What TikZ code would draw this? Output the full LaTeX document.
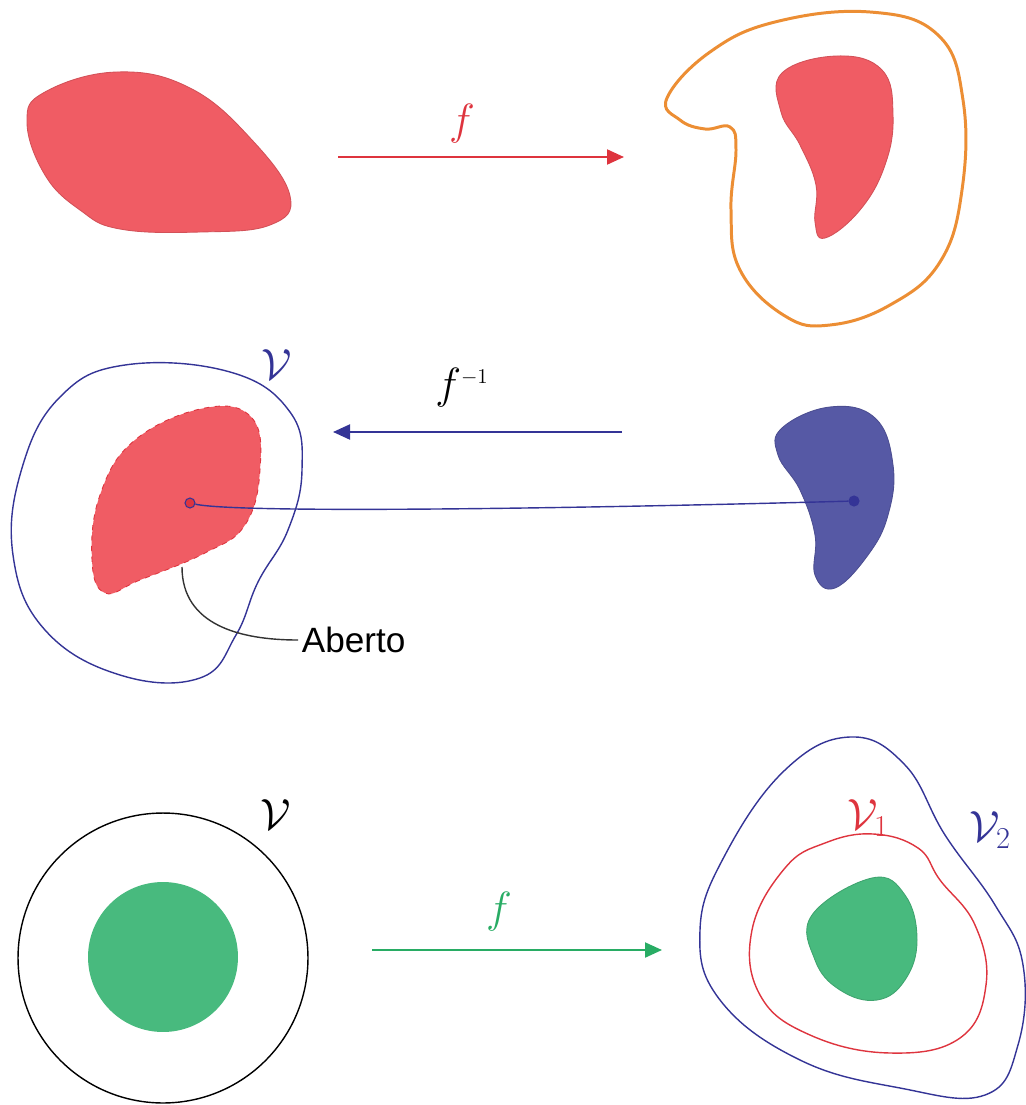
\documentclass[tikz,border=0pt]{standalone}
\usepackage{fontspec}
\setsansfont{Liberation Sans}
\usetikzlibrary{arrows.meta}

\definecolor{setred}{RGB}{240,92,100}
\definecolor{edgered}{RGB}{222,52,62}
\definecolor{orangeline}{RGB}{236,142,52}
\definecolor{navyline}{RGB}{52,52,150}
\definecolor{setblue}{RGB}{86,89,165}
\definecolor{setgreen}{RGB}{72,186,126}
\definecolor{greenline}{RGB}{40,172,100}

\begin{document}
\begin{tikzpicture}[
  x=0.02cm, y=-0.02cm,
  region/.style={fill=#1, draw=#1!88!black, line width=0.5pt},
  boundary/.style={draw=#1, line width=0.8pt},
  blobline/.style={smooth cycle, tension=0.7},
  map/.style={draw=#1, line width=1.2pt, -{Triangle[length=3.4mm,width=3mm]}},
  maplabel/.style={text=#1, inner sep=0pt, font=\fontsize{26}{30}\selectfont},
  pin/.style={circle, draw=navyline, fill=#1, inner sep=0pt, minimum size=2mm, line width=0.6pt}
]
  \useasboundingbox (0,0) rectangle (1026,1105);

  % first row: image of a set
  \fill[region=setred] plot[blobline] coordinates {
    (27,122) (45,92) (117,72) (190,88) (252,140) (290,196) (270,225)
    (200,232) (120,229) (80,210) (45,175)};
  \draw[orangeline, line width=1.7pt] plot[blobline] coordinates {
    (667,98) (680,120) (705,129) (730,127) (736,150) (731,210)
    (740,270) (785,316) (830,325) (890,305) (940,262) (962,190) (963,100)
    (938,35) (870,12) (775,22) (710,52)};
  \fill[region=setred] plot[blobline] coordinates {
    (782,73) (837,56) (882,70) (893,115) (885,165) (860,210) (825,238)
    (815,222) (816,185) (800,145) (781,112)};

  \coordinate (fs) at (338,157);
  \coordinate (ft) at (624,157);
  \draw[map=edgered] (fs) -- (ft);
  \node[maplabel=edgered] (flabel) at (462,124) {$f$};

  % second row: preimage of an open set
  \draw[boundary=navyline] plot[blobline] coordinates {
    (125,365) (230,372) (290,412) (302,470) (288,530) (258,582) (236,635)
    (200,678) (120,675) (45,630) (13,555) (22,468) (60,397)};
  \node[maplabel=navyline] (vmid) at (277,365) {$\mathcal{V}$};
  \filldraw[fill=setred, draw=edgered, dashed, line width=0.5pt] plot[blobline] coordinates {
    (205,408) (252,418) (260,470) (245,525) (205,553) (140,580)
    (105,593) (92,560) (100,495) (135,440)};
  \fill[region=setblue] plot[blobline] coordinates {
    (782,428) (830,407) (875,418) (893,465) (888,515) (868,555) (835,588)
    (815,575) (815,535) (800,490) (778,455)};

  \coordinate (gs) at (622,432);
  \coordinate (gt) at (333,432);
  \draw[map=navyline] (gs) -- (gt);
  \node[maplabel=black] (finv) at (462,388) {$f^{\scriptscriptstyle -1}$};

  \node[pin=edgered] (pa) at (190,503) {};
  \node[pin=navyline] (pb) at (854,501) {};
  \draw[navyline, line width=0.8pt] (pa) .. controls (240,514) and (600,508) .. (pb);

  \coordinate (rim) at (182,567);
  \node[font=\sffamily\fontsize{20}{24}\selectfont, anchor=west, inner sep=2pt] (aberto) at (298,640) {Aberto};
  \draw[black!80, line width=0.8pt] (rim) .. controls (182,625) and (240,640) .. (aberto.west);

  % third row: neighbourhoods
  \draw[black, line width=0.8pt] (163,958) circle[radius=2.9cm];
  \fill[setgreen] (163,957) circle[radius=1.5cm];
  \node[maplabel=black] (vlow) at (276,815) {$\mathcal{V}$};

  \coordinate (hs) at (372,950);
  \coordinate (ht) at (662,950);
  \draw[map=greenline] (hs) -- (ht);
  \node[maplabel=greenline] (fgreen) at (499,912) {$f$};

  \draw[boundary=navyline] plot[blobline] coordinates {
    (850,737) (905,765) (945,835) (995,905) (1023,965) (1018,1045)
    (985,1095) (900,1088) (800,1060) (720,1000) (700,930) (725,855)
    (785,770)};
  \draw[boundary=edgered] plot[blobline] coordinates {
    (873,834) (918,848) (940,880) (975,925) (986,985) (960,1038) (890,1053)
    (810,1035) (760,995) (752,930) (785,868) (825,843)};
  \fill[region=setgreen] plot[blobline] coordinates {
    (872,878) (905,895) (917,940) (905,980) (877,1000) (840,990) (815,960)
    (812,915)};
  \node[maplabel=edgered] (vone) at (868,818) {$\mathcal{V}_1$};
  \node[maplabel=navyline] (vtwo) at (990,830) {$\mathcal{V}_2$};
\end{tikzpicture}
\end{document}
